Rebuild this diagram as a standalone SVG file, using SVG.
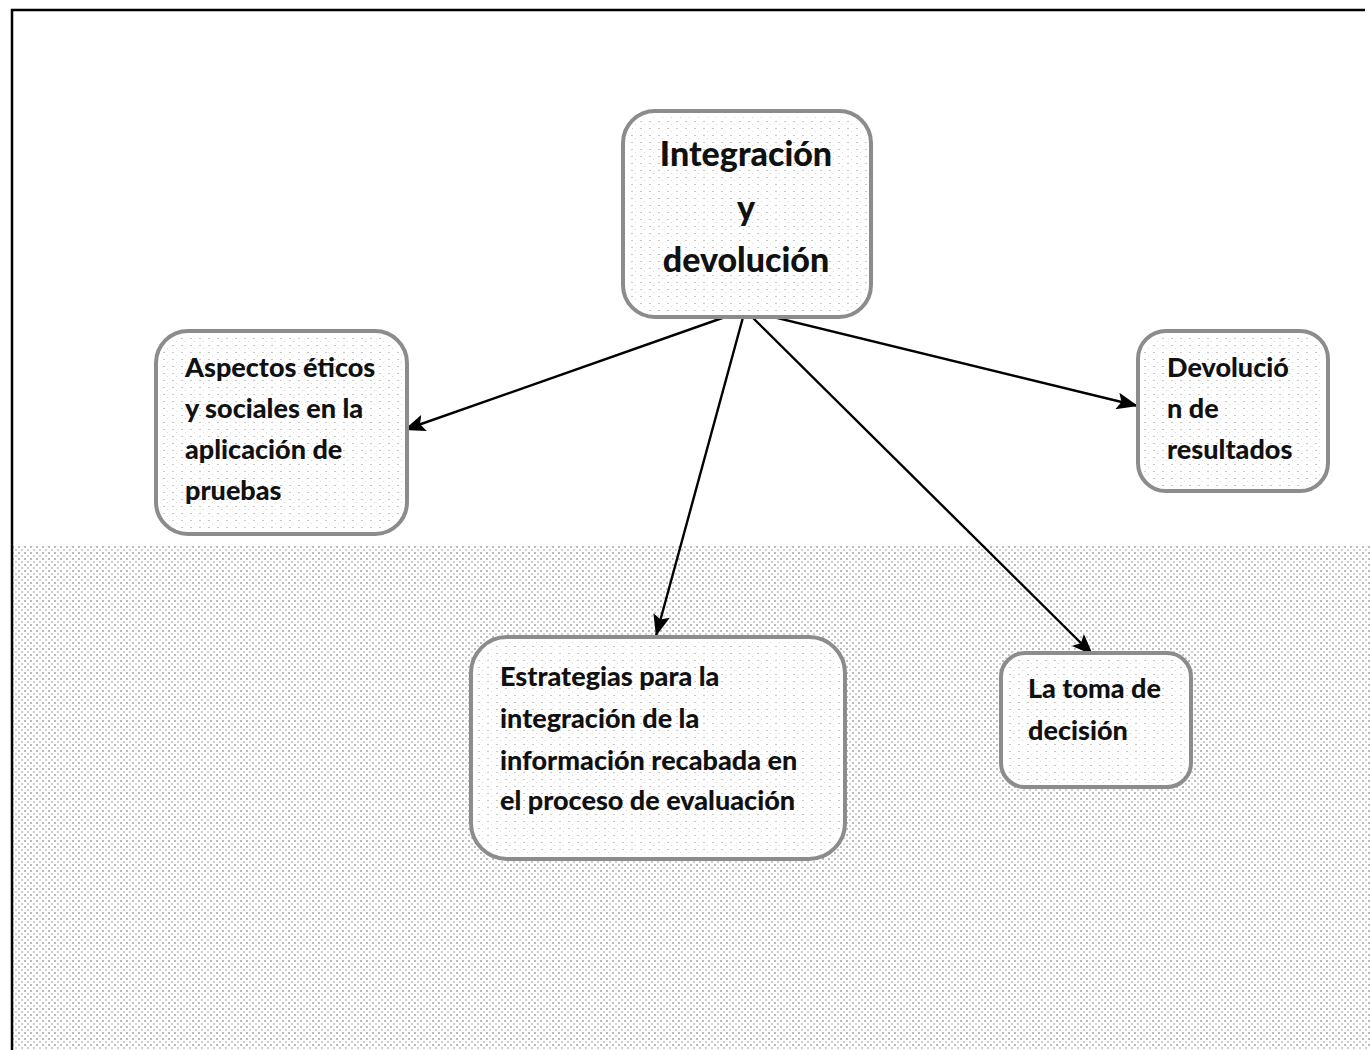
<svg xmlns="http://www.w3.org/2000/svg" width="1370" height="1050" viewBox="0 0 1370 1050">
<defs>
<pattern id="dots" width="6" height="6" patternUnits="userSpaceOnUse">
<rect x="0" y="0" width="2" height="2" fill="#555"/>
<rect x="3" y="3" width="2" height="2" fill="#888"/>
</pattern>
<pattern id="dots2" width="9" height="7" patternUnits="userSpaceOnUse">
<rect x="1" y="2" width="2" height="1" fill="#777"/>
<rect x="5" y="5" width="1" height="1" fill="#999"/>
</pattern>
<marker id="arrow" viewBox="0 0 20 16" refX="20" refY="8" markerWidth="22" markerHeight="17" markerUnits="userSpaceOnUse" orient="auto">
<path d="M0,0 L20,8 L0,16 L4,8 z" fill="#000"/>
</marker>
</defs>
<style>
.box{fill:#fff;stroke:#8c8c8c;stroke-width:4}
.inner{fill:url(#dots2);opacity:0.4}
.t{font-family:Lato,"Open Sans","Liberation Sans",sans-serif;font-weight:900;fill:#111}
.big{font-size:34px}
.lab{font-size:27px}
.conn{stroke:#000;stroke-width:2.4;fill:none;marker-end:url(#arrow)}
</style>
<rect x="0" y="0" width="1370" height="1050" fill="#fff"/>
<g id="texture">
<rect x="13" y="545" width="1357" height="505" fill="url(#dots)" opacity="0.4"/>
</g>
<g id="frame">
<path d="M12,1050 L12,10 L1365,10" fill="none" stroke="#000" stroke-width="2.5"/>
</g>
<g id="connectors">
<line class="conn" x1="745" y1="310" x2="404" y2="430"/>
<line class="conn" x1="745" y1="310" x2="656" y2="636"/>
<line class="conn" x1="745" y1="310" x2="1093" y2="655"/>
<line class="conn" x1="745" y1="310" x2="1138" y2="406"/>
</g>
<g id="node-center">
<rect class="box" x="623" y="111" width="248" height="206" rx="32"/>
<rect class="inner" x="627" y="115" width="240" height="198" rx="30"/>
<text class="t big" x="746" y="166" text-anchor="middle">Integración</text>
<text class="t big" x="746" y="220" text-anchor="middle">y</text>
<text class="t big" x="746" y="272" text-anchor="middle">devolución</text>
</g>
<g id="node-aspectos">
<rect class="box" x="156" y="331" width="251" height="203" rx="32"/>
<rect class="inner" x="160" y="335" width="243" height="195" rx="30"/>
<text class="t lab" x="185" y="377">Aspectos éticos</text>
<text class="t lab" x="185" y="418">y sociales en la</text>
<text class="t lab" x="185" y="459">aplicación de</text>
<text class="t lab" x="185" y="500">pruebas</text>
</g>
<g id="node-devolucion">
<rect class="box" x="1138" y="331" width="190" height="160" rx="28"/>
<rect class="inner" x="1142" y="335" width="182" height="152" rx="26"/>
<text class="t lab" x="1167" y="377">Devolució</text>
<text class="t lab" x="1167" y="418">n de</text>
<text class="t lab" x="1167" y="459">resultados</text>
</g>
<g id="node-estrategias">
<rect class="box" x="471" y="637" width="374" height="222" rx="36"/>
<rect class="inner" x="475" y="641" width="366" height="214" rx="34"/>
<text class="t lab" x="500" y="686">Estrategias para la</text>
<text class="t lab" x="500" y="728">integración de la</text>
<text class="t lab" x="500" y="770">información recabada en</text>
<text class="t lab" x="500" y="810">el proceso de evaluación</text>
</g>
<g id="node-toma">
<rect class="box" x="1001" y="653" width="190" height="134" rx="24"/>
<rect class="inner" x="1005" y="657" width="182" height="126" rx="22"/>
<text class="t lab" x="1028" y="698">La toma de</text>
<text class="t lab" x="1028" y="740">decisión</text>
</g>
</svg>
